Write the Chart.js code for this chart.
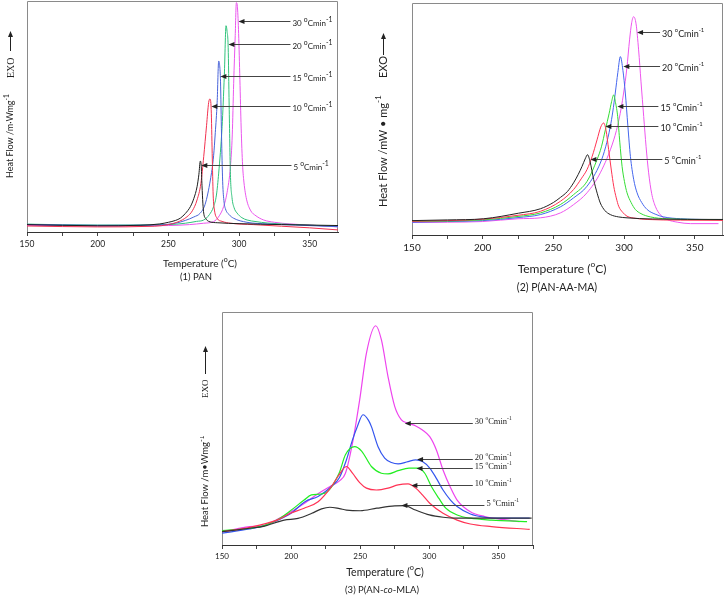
<!DOCTYPE html>
<html>
<head>
<meta charset="utf-8">
<script src="https://cdn.jsdelivr.net/npm/chart.js@4.4.1/dist/chart.umd.min.js"></script>
<style>
  html, body { margin: 0; padding: 0; background: #fff; }
  body { width: 725px; height: 596px; position: relative; overflow: hidden; }
  canvas { position: absolute; }
  #c1 { left: 0; top: 0; }
  #c2 { left: 360px; top: 0; }
  #c3 { left: 200px; top: 300px; }
</style>
</head>
<body>
<canvas id="c1" width="360" height="290"></canvas>
<canvas id="c2" width="365" height="300"></canvas>
<canvas id="c3" width="360" height="296"></canvas>
<script>
const rates = ["5", "10", "15", "20", "30"];

// (1) PAN : [temperature, heat flow (relative)]
const pan5 = [[150,3.2],[200,2.7],[230,2.9],[244,3.5],[250,4.2],[255,5],[258.5,6],[262,8],[265.6,11],[268,14.5],[270.3,19.6],[271.6,25],[272.6,30.7],[273.2,29],[273.8,20],[274.4,12.5],[275,8.2],[276.5,5.8],[278.5,4.6],[285,4],[300,3.6],[330,3.2],[370,2.8]];
const pan10 = [[150,2.6],[200,2.2],[240,2.5],[250,3.2],[256,4.2],[260,5.3],[263.2,6.6],[267,9.2],[270.3,13.9],[273,21],[275,32.6],[277,46],[278.5,56],[279.4,57.6],[280.3,53],[281,34],[281.7,16],[282.6,9.5],[284.5,5.9],[288,4.6],[294,3.8],[310,3.2],[330,2.5],[350,1.8],[370,0.9]];
const pan15 = [[150,3.3],[200,2.9],[240,3],[255,3.8],[262,5],[268,6.5],[272.6,8.2],[276,12],[279.7,22.5],[282,33],[283.2,43],[284.5,56],[285.6,74],[286.3,72],[286.9,65],[287.6,42],[288.4,22],[289.4,13],[290.4,10],[293,7.5],[296,6],[305.6,4.2],[320,3.5],[340,3],[370,2.3]];
const pan20 = [[150,3.4],[200,3],[250,3.2],[262,3.8],[270,4.6],[275,5.2],[279,7.5],[282,11],[284,16],[285.6,25.5],[288,45.6],[289.6,68],[290.8,89.3],[291.5,87],[292.3,80],[293,55],[293.9,25],[295,15],[296.5,10.5],[298.6,8.2],[302,6.2],[305.7,5.2],[312,4.5],[319.8,3.9],[340,3.2],[370,2.5]];
const pan30 = [[150,2.9],[200,2.6],[250,2.8],[265,3.2],[275,3.8],[282,4.5],[286,7],[289.1,11],[291.5,17],[293.9,28.3],[295.2,42],[296.2,64.4],[297.3,85],[298.1,99.3],[298.9,97],[299.7,86],[300.6,66],[301.5,45],[302.5,29],[303.3,22.5],[305,15],[308,9.5],[312,7],[317.4,5.2],[325,4.2],[336,3.5],[350,3],[370,2.2]];
const panArrowT = [273.3, 280.4, 286.8, 292.5, 299.6];
const panArrowV = [29, 54.5, 67.5, 81.4, 91.3];
const panLabelT = [338.5, 337.8, 337.8, 337.8, 337.8];

// (2) P(AN-AA-MA)
const aam5 = [[150,6.2],[175,6.5],[200.7,7],[225.4,9.4],[240.8,11.3],[250,14],[255,16.2],[260,18.8],[264.3,22.5],[267.5,26],[270.3,29.6],[272.5,32.8],[274.2,34.6],[276,31.5],[278.5,23.9],[281,18],[283.2,13.8],[286.5,10.5],[290.3,8.8],[296,7.8],[302.1,7.4],[320,6.9],[370,6.7]];
const aam10 = [[150,5.9],[175,6.2],[200,6.8],[225,8.5],[240.8,10.2],[254.9,14.5],[264.3,19.6],[270,24.5],[273.8,28.2],[277.5,34],[280.9,41],[283.5,46.5],[285.6,48.3],[287.3,45],[289.1,36.8],[291,28],[292.7,21],[294.5,16],[296.2,12.4],[299,9.8],[302.1,8.1],[308,7.2],[316.3,6.7],[340,6.4],[370,6.3]];
const aam15 = [[150,5.8],[175,6],[200,6.5],[225,8],[240.8,9.5],[254.9,13.1],[264.3,17.4],[273.8,23.1],[280.9,32.5],[284,38],[286.8,45.4],[289.5,52.5],[291.2,57.5],[292.7,60.4],[294,57],[295.5,51.1],[297,40],[298.6,29.6],[300.3,23],[302.1,18.2],[305,14],[308,11],[312,9.2],[318.6,7.8],[330,7],[370,6.6]];
const aam20 = [[150,5.5],[175,5.8],[200,6.2],[225,7.5],[240.8,8.8],[254.9,12.1],[264.3,16],[273.8,21],[283.2,31],[287,38],[290.3,46.8],[292,53],[293.8,61.2],[295.6,70],[297.4,76.9],[299.2,71],[300.9,61.2],[302.7,47],[304.5,33.9],[306.8,24],[309.2,18.2],[312.5,14],[316.3,11],[322,9],[328,7.8],[340,7],[370,6.6]];
const aam30 = [[150,5.4],[175,5.5],[200,5.8],[225,7],[240.8,7.4],[254.9,9.5],[264.3,13.1],[273.8,18.2],[283.2,26.8],[292.7,41],[296.5,50],[299.7,61.2],[302,72],[303.9,84.1],[305.4,91.5],[306.8,94.1],[308.5,91],[310.3,79.8],[312,66],[313.9,51.1],[315.6,38],[317.4,26.8],[319.5,18],[322.1,12.4],[326,8.5],[330.4,6.7],[338,5.5],[346.9,4.9],[366.8,4.9]];
const aamArrowT = [276.2, 286.8, 295.3, 299.5, 309.2];
const aamArrowV = [32.9, 47.1, 55.7, 72.9, 87.5];
const aamLabelT = [328.5, 325.7, 325.7, 326.9, 326.9];

// (3) P(AN-co-MLA)
const mla5 = [[150,5.7],[170,7.2],[180,8],[195,10.7],[205,11.4],[215,13.6],[222,15.5],[228,16.2],[235,15.6],[240,15],[250,14.7],[262,15.8],[275,16.8],[282,16.9],[290,15],[300,12.9],[310,11.9],[320,11.5],[350,11.5],[374,11.5]];
const mla10 = [[150,5.7],[170,7.6],[189.8,10.7],[199.5,13.6],[209.4,15.8],[219.5,18.6],[229.2,25.1],[234,29.5],[240,33.7],[244.4,30.8],[249.6,26.8],[254.5,24.4],[261.7,23.6],[270.1,24.4],[277.4,25.8],[284.6,26.2],[290.2,24.4],[295,21.5],[300.3,17.9],[309.9,13.6],[320.1,10.7],[329.7,9],[345,7.9],[372.6,6.7]];
const mla15 = [[150,6.2],[170,7.2],[180,8.2],[189.8,10.7],[199.5,14.7],[209.4,19.3],[214.7,21.5],[224.3,22.2],[234.7,30.8],[239.3,38.7],[246,42.2],[251,40.3],[258.1,33.7],[265.3,30.8],[270.1,30.5],[277.4,31.9],[285.3,33],[291.9,33],[296.7,30.8],[301.5,25.1],[306.8,20.1],[311.9,15.8],[320.1,12.9],[329.7,11.5],[345,10.7],[370.7,10]];
const mla20 = [[150,5.1],[170,6.9],[180,8.2],[190,10.5],[200,13.6],[210,18.6],[219.5,20.8],[229.2,25.1],[235,29],[240,36.5],[244.4,45.1],[248,51],[252,55.9],[256,53.5],[258.1,50.8],[262.9,42.2],[267.7,37.3],[272.6,35.4],[277.4,34.8],[284.6,35.8],[290.2,36.5],[295,35.8],[300.3,33],[305.1,28.6],[309.9,23.6],[315.3,19.3],[320.1,16.5],[329.7,13.3],[340.1,11.9],[350,11.5],[372.6,11.5]];
const mla30 = [[150,5.7],[160,6.8],[170,7.9],[180,8.2],[190,11],[200,14.3],[210,18],[220,22.2],[229,25.4],[235,27.5],[239.3,30.8],[244.4,43.7],[249.6,62.3],[254.5,82.4],[261.2,94.1],[265.3,88.1],[270.1,72.3],[275,59.4],[279.8,53.7],[284.6,52.3],[290.2,51.1],[295,49.4],[300.3,46.5],[305.1,40.8],[309.9,32.2],[315.3,24.7],[320.1,19.3],[329.7,14.3],[340.1,12.2],[350,11.2],[365.4,10]];
const mlaArrowT = [279.8, 287, 290.7, 291.1, 282.2];
const mlaArrowV = [17.2, 25.8, 33, 36.8, 52.3];
const mlaLabelT = [341.3, 332.9, 332.9, 332.9, 332.9];

const SANS = "Lato, 'Open Sans', sans-serif";
const SERIF = "'Liberation Serif', 'DejaVu Serif', serif";

// draw text runs: [text, superscript?, italic?]; y is the middle of the main text
function drawRuns(ctx, x, y, runs, size, family, align, supScale) {
  const ss = size * (supScale || 0.72);
  let w = 0;
  const parts = runs.map(r => {
    const f = (r[2] ? "italic " : "") + (r[1] ? ss : size) + "px " + family;
    ctx.font = f;
    const pw = ctx.measureText(r[0]).width;
    w += pw;
    return { t: r[0], f, pw, sup: r[1] };
  });
  let cx = align === "center" ? x - w / 2 : x;
  ctx.textAlign = "left";
  ctx.textBaseline = "alphabetic";
  for (const p of parts) {
    ctx.font = p.f;
    ctx.fillText(p.t, cx, y + size * 0.35 - (p.sup ? size * 0.5 : 0));
    cx += p.pw;
  }
}

const decor = {
  id: "decor",
  beforeDatasetsDraw(chart, args, o) {
    const ctx = chart.ctx, a = chart.chartArea;
    ctx.save();
    ctx.strokeStyle = o.frame;
    ctx.lineWidth = 1;
    ctx.beginPath();
    ctx.moveTo(a.left + 0.5, a.bottom);
    ctx.lineTo(a.left + 0.5, a.top + 0.5);
    ctx.lineTo(a.right - 0.5, a.top + 0.5);
    ctx.lineTo(a.right - 0.5, a.bottom);
    ctx.stroke();
    ctx.restore();
  },
  afterDraw(chart, args, o) {
    const ctx = chart.ctx, xs = chart.scales.x, ys = chart.scales.y;
    ctx.save();
    ctx.fillStyle = "#222";

    // arrows with heating-rate labels
    const ar = o.arrows;
    ar.t.forEach((t, i) => {
      const tx = xs.getPixelForValue(t);
      const y = Math.round(ys.getPixelForValue(ar.v[i])) + 0.5;
      const lx = xs.getPixelForValue(ar.labelT[i]);
      ctx.strokeStyle = "#444";
      ctx.lineWidth = 1;
      ctx.beginPath();
      ctx.moveTo(tx + 4, y);
      ctx.lineTo(lx - 2, y);
      ctx.stroke();
      ctx.fillStyle = "#222";
      ctx.beginPath();
      ctx.moveTo(tx, y);
      ctx.lineTo(tx + 6, y - 2.5);
      ctx.lineTo(tx + 6, y + 2.5);
      ctx.closePath();
      ctx.fill();
      drawRuns(ctx, lx, y + ar.dy, [[rates[i] + " ", 0], ["o", 1], ["Cmin", 0], ["-1", 1]], ar.size, ar.family, "left", ar.sup);
    });

    // y title, rotated
    const yt = o.yTitle;
    ctx.save();
    ctx.translate(yt.x, yt.y);
    ctx.rotate(-Math.PI / 2);
    drawRuns(ctx, 0, 0, yt.runs, yt.size, SANS, "left", 0.75);
    ctx.restore();
    ctx.save();
    ctx.translate(yt.x, yt.exoY);
    ctx.rotate(-Math.PI / 2);
    drawRuns(ctx, 0, 0, [["EXO", 0]], yt.exoSize, yt.exoFamily, "left");
    ctx.restore();
    ctx.strokeStyle = "#222";
    ctx.lineWidth = 1;
    ctx.beginPath();
    ctx.moveTo(yt.x + 0.5, yt.arrow[0]);
    ctx.lineTo(yt.x + 0.5, yt.arrow[1] + 4);
    ctx.stroke();
    ctx.beginPath();
    ctx.moveTo(yt.x + 0.5, yt.arrow[1]);
    ctx.lineTo(yt.x - 2, yt.arrow[1] + 6);
    ctx.lineTo(yt.x + 3, yt.arrow[1] + 6);
    ctx.closePath();
    ctx.fill();

    // x title and panel caption
    const xt = o.xTitle;
    drawRuns(ctx, xt.x, xt.y, [["Temperature (", 0], ["o", 1], ["C)", 0]], xt.size, SANS, "center", 0.7);
    const sb = o.sub;
    drawRuns(ctx, sb.x, sb.y, sb.runs, sb.size, SANS, "center");
    ctx.restore();
  }
};

function makeChart(id, series, colors, xmax, axisH, pad, tickSize, lineW, deco) {
  return new Chart(id, {
    type: "line",
    data: {
      datasets: series.map((s, i) => ({
        label: rates[i] + " °C/min",
        data: s.map(p => ({ x: p[0], y: p[1] })),
        borderColor: colors[i],
        borderWidth: lineW,
        pointRadius: 0,
        fill: false,
        cubicInterpolationMode: "monotone",
      })),
    },
    options: {
      responsive: false,
      devicePixelRatio: 1,
      animation: false,
      events: [],
      layout: { padding: pad },
      scales: {
        x: {
          type: "linear",
          min: 150,
          max: xmax,
          afterFit: s => { s.height = axisH; },
          border: { display: true, color: "#333", width: 1 },
          grid: { drawOnChartArea: false, drawTicks: true, tickLength: 4, color: "#444" },
          ticks: {
            stepSize: 25,
            includeBounds: false,
            autoSkip: false,
            maxRotation: 0,
            padding: 3,
            color: "#222",
            font: { family: SANS, size: tickSize },
            callback: v => (v % 50 === 0 ? v : ""),
          },
        },
        y: { display: false, min: 0, max: 100 },
      },
      plugins: { legend: { display: false }, tooltip: { enabled: false }, decor: deco },
    },
    plugins: [decor],
  });
}

makeChart("c1", [pan5, pan10, pan15, pan20, pan30],
  ["#1e1e1e", "#f2314f", "#4863d8", "#2fc27a", "#ea55ee"],
  370, 58, { left: 27, right: 22, top: 1, bottom: 0 }, 8.5, 1, {
    frame: "#8a8a8a",
    arrows: { t: panArrowT, v: panArrowV, labelT: panLabelT, size: 8, family: SANS, sup: 0.85, dy: 2 },
    yTitle: { x: 10, y: 178, size: 9, runs: [["Heat Flow /m·Wmg", 0], ["-1", 1]], exoY: 78, exoSize: 10, exoFamily: SERIF, arrow: [51, 31] },
    xTitle: { x: 200, y: 263, size: 10 },
    sub: { x: 196, y: 277, size: 9.5, runs: [["(1) PAN", 0]] },
  });

makeChart("c2", [aam5, aam10, aam15, aam20, aam30],
  ["#222222", "#ff3352", "#33dd33", "#4466ee", "#ee55ee"],
  370, 65, { left: 52, right: 2, top: 3, bottom: 0 }, 10, 1, {
    frame: "#8a8a8a",
    arrows: { t: aamArrowT, v: aamArrowV, labelT: aamLabelT, size: 9, family: SANS, sup: 0.65, dy: 1 },
    yTitle: { x: 23, y: 207, size: 11, runs: [["Heat Flow /mW • mg", 0], ["-1", 1]], exoY: 78, exoSize: 11, exoFamily: SANS, arrow: [55, 33] },
    xTitle: { x: 202, y: 269, size: 12 },
    sub: { x: 197, y: 287, size: 10.5, runs: [["(2) P(AN-AA-MA)", 0]] },
  });

makeChart("c3", [mla5, mla10, mla15, mla20, mla30],
  ["#333333", "#ff3355", "#22ee22", "#3355ee", "#ee44ee"],
  375, 51, { left: 22, right: 27, top: 12, bottom: 0 }, 8, 1.2, {
    frame: "#8a8a8a",
    arrows: { t: mlaArrowT, v: mlaArrowV, labelT: mlaLabelT, size: 8.5, family: SERIF, sup: 0.65, dy: -2 },
    yTitle: { x: 5, y: 227, size: 9.5, runs: [["Heat Flow /m•Wmg", 0], ["-1", 1]], exoY: 98, exoSize: 9, exoFamily: SERIF, arrow: [74, 46] },
    xTitle: { x: 185, y: 272, size: 10.5 },
    sub: { x: 182, y: 290, size: 9.5, runs: [["(3) P(AN-", 0], ["co", 0, 1], ["-MLA)", 0]] },
  });
</script>
</body>
</html>
